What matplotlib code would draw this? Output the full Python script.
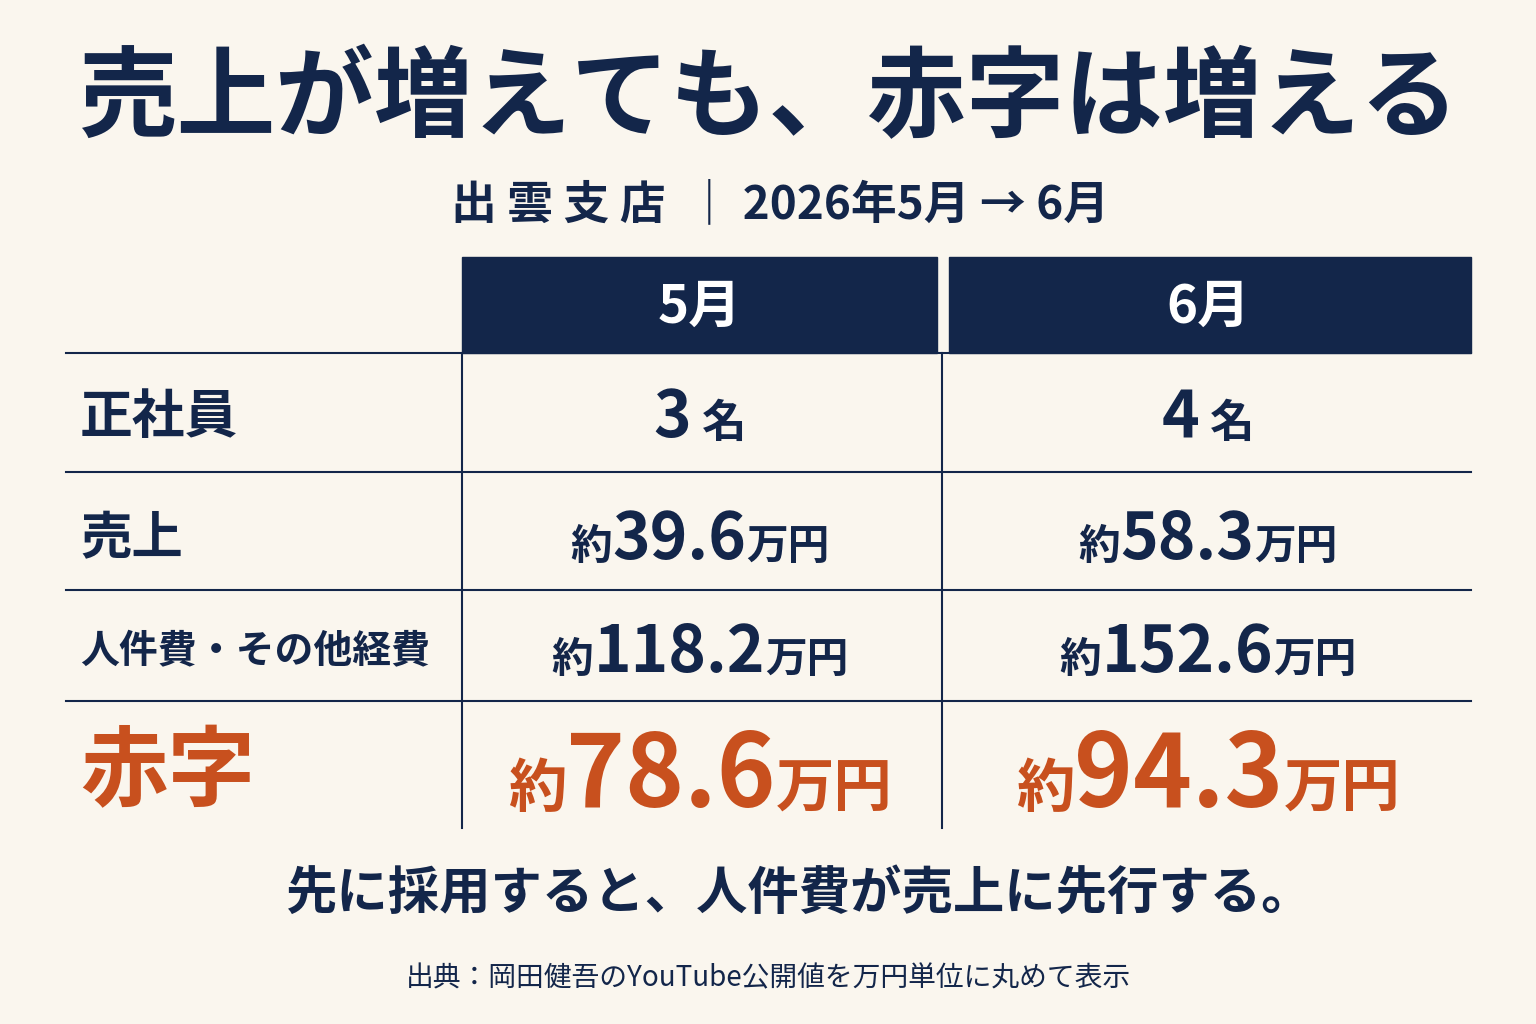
import matplotlib
matplotlib.use("Agg")
import matplotlib.pyplot as plt
from matplotlib.patches import Rectangle

plt.rcParams['font.family'] = ['Noto Sans CJK JP', 'DejaVu Sans']

BG = '#FAF6EE'
NAVY = '#13264A'
ORANGE = '#C8501E'

title = '売上が増えても、赤字は増える'
subtitle = '出 雲 支 店  ｜ 2026年5月 → 6月'
months = ['5月', '6月']
row_labels = ['正社員', '売上', '人件費・その他経費', '赤字']
staff = [3, 4]
sales = [39.6, 58.3]
costs = [118.2, 152.6]
deficit = [78.6, 94.3]
note = '先に採用すると、人件費が売上に先行する。'
source = '出典：岡田健吾のYouTube公開値を万円単位に丸めて表示'

fig = plt.figure(figsize=(15.36, 10.24), dpi=100, facecolor=BG)
ax = fig.add_axes([0, 0, 1, 1])
ax.set_xlim(0, 1536)
ax.set_ylim(1024, 0)
ax.axis('off')
fig.canvas.draw()
renderer = fig.canvas.get_renderer()


def pieces(cx, base, parts):
    # parts: list of (text, size, color); drawn side by side on one baseline, centred on cx
    objs = []
    for s, size, color in parts:
        objs.append(ax.text(0, base, s, fontsize=size, color=color, weight='bold',
                            ha='left', va='baseline'))
    widths = [t.get_window_extent(renderer).width for t in objs]
    x = cx - sum(widths) / 2
    for t, w in zip(objs, widths):
        t.set_x(x)
        x += w


ax.text(768, 100, title, fontsize=71, weight='bold', color=NAVY, ha='center', va='center')
ax.text(780, 205, subtitle, fontsize=33, weight='bold', color=NAVY, ha='center', va='center')

col_x = [(462, 937), (949, 1471)]
centers = [700, 1208]
for (x0, x1), m, c in zip(col_x, months, centers):
    ax.add_patch(Rectangle((x0, 257), x1 - x0, 96, color=NAVY))
    ax.text(c, 307, m, fontsize=38, weight='bold', color='white', ha='center', va='center')

for y in [353, 472, 590, 701]:
    ax.plot([66, 1471], [y, y], color=NAVY, lw=1.5)
for x in [462, 942]:
    ax.plot([x, x], [353, 828], color=NAVY, lw=1.5)

row_y = [413, 535, 648, 770]
label_sizes = [38, 37, 28, 63]
for lab, y, s in zip(row_labels, row_y, label_sizes):
    col = ORANGE if lab == '赤字' else NAVY
    ax.text(80, y + 4, lab, fontsize=s, weight='bold', color=col, ha='left', va='center')

for i, c in enumerate(centers):
    pieces(c, row_y[0] + 24, [(str(staff[i]), 46, NAVY), (' 名', 32, NAVY)])
    pieces(c, row_y[1] + 24, [('約', 30, NAVY), (f'{sales[i]}', 46, NAVY), ('万円', 30, NAVY)])
    pieces(c, row_y[2] + 24, [('約', 30, NAVY), (f'{costs[i]}', 46, NAVY), ('万円', 30, NAVY)])
    pieces(c, row_y[3] + 37, [('約', 42, ORANGE), (f'{deficit[i]}', 72, ORANGE), ('万円', 42, ORANGE)])

ax.text(800, 893, note, fontsize=37, weight='bold', color=NAVY, ha='center', va='center')
ax.text(768, 978, source, fontsize=20, color=NAVY, ha='center', va='center')

fig.savefig('out.png', dpi=100, facecolor=BG)
